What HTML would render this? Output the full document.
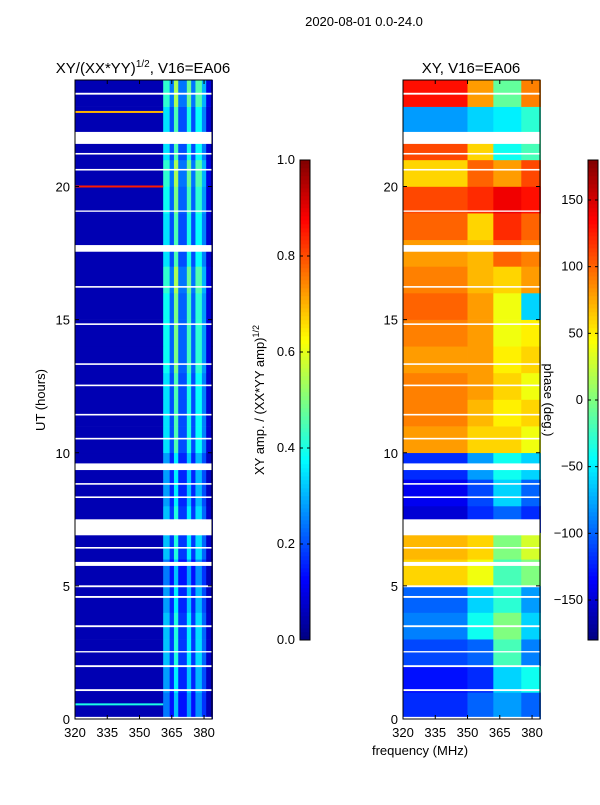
<!DOCTYPE html>
<html><head><meta charset="utf-8">
<style>
html,body{margin:0;padding:0;background:#fff;}
svg text{font-family:"Liberation Sans","DejaVu Sans",sans-serif;fill:#000;}
</style></head>
<body>
<svg id="fig" width="600" height="800" viewBox="0 0 600 800" xmlns="http://www.w3.org/2000/svg">
<text x="364" y="26" font-size="13" text-anchor="middle">2020-08-01 0.0-24.0</text>
<text x="143" y="73" font-size="15" text-anchor="middle">XY/(XX*YY)<tspan font-size="10" dy="-6">1/2</tspan><tspan dy="6">, V16=EA06</tspan></text>
<text x="471" y="73" font-size="15" text-anchor="middle">XY, V16=EA06</text>
<g id="leftG"></g>
<g id="rightG"></g>
<g id="axes"></g>
<text transform="translate(45,400) rotate(-90)" font-size="13" text-anchor="middle">UT (hours)</text>
<text x="420" y="755" font-size="13" text-anchor="middle">frequency (MHz)</text>
<text transform="translate(264,400) rotate(-90)" font-size="13" text-anchor="middle">XY amp. / (XX*YY amp)<tspan font-size="9" dy="-5">1/2</tspan></text>
<text transform="translate(544,400) rotate(90)" font-size="13" text-anchor="middle">phase (deg.)</text>
</svg>
<script>
const hours=[0,5,10,15,20];
const freqTicks=[320,335,350,365,380];
const ampTicks=[0.0,0.2,0.4,0.6,0.8,1.0];
const phaseTicks=[-150,-100,-50,0,50,100,150];
const ampBandEdges=[320,361,364,366,368,372,374,376,379,381,384];
const ampBandValues=[0.05,0.35,0.2,0.45,0.2,0.4,0.2,0.38,0.25,0.08];
const ampHourScale=[0.7,0.8,0.9,0.9,0.8,0.7,0.9,0.9,0.8,0.8,1.0,1.0,1.0,1.1,1.1,1.1,1.2,1.0,1.0,1.1,1.2,1.0,1.0,1.2];
const phaseBandEdges=[320,350,362,375,384];
const phaseRows=[
[-120,-100,-80,-100],[-130,-120,-60,-40],[-110,-100,-20,-90],[-90,-40,0,-60],[-100,-60,-30,-80],
[60,40,-20,0],[70,60,0,30],[-150,-120,-100,-120],[-140,-110,-60,-100],[-120,-80,-40,-60],
[80,60,60,40],[90,70,50,60],[90,80,60,40],[80,80,50,60],[90,80,40,50],
[100,80,40,-60],[90,70,60,80],[80,70,100,90],[100,60,120,100],[110,120,140,130],
[60,100,80,110],[110,60,-40,-20],[-80,-60,-50,-30],[130,80,-10,90]];
const gaps=[[23.45,23.52],[21.6,22.05],[21.2,21.26],[20.6,20.66],[19.05,19.1],[17.55,17.8],[16.2,16.26],[14.8,14.86],[13.3,13.36],[12.5,12.56],[11.4,11.46],[10.5,10.56],[9.35,9.6],[8.8,8.86],[8.3,8.36],[6.9,7.5],[6.4,6.46],[5.75,5.9],[4.95,5.02],[4.55,4.62],[3.45,3.52],[2.5,2.55],[1.95,2.02],[1.05,1.12],[0.0,0.08]];
const hotRows=[[20.0,0.85],[22.8,0.7],[0.55,0.4]];

const NS="http://www.w3.org/2000/svg";
const Y0=719,Y1=80,F0=320,F1=383.7;
const yOf=h=>Y0-(h/24)*(Y0-Y1);
function xOf(px0,f){return px0+(f-F0)/(F1-F0)*137;}
function jet(t){t=Math.max(0,Math.min(1,t));
 const r=Math.max(0,Math.min(1,1.5-Math.abs(4*t-3))),g=Math.max(0,Math.min(1,1.5-Math.abs(4*t-2))),b=Math.max(0,Math.min(1,1.5-Math.abs(4*t-1)));
 return `rgb(${Math.round(r*255)},${Math.round(g*255)},${Math.round(b*255)})`;}
function rect(p,x,y,w,h,fill,name){const r=document.createElementNS(NS,'rect');
 r.setAttribute('x',x);r.setAttribute('y',y);r.setAttribute('width',w);r.setAttribute('height',h);r.setAttribute('fill',fill);
 
 
 p.appendChild(r);return r;}
function text(p,x,y,s,anchor,name){const t=document.createElementNS(NS,'text');
 t.setAttribute('x',x);t.setAttribute('y',y);t.setAttribute('font-size','13');t.setAttribute('text-anchor',anchor);t.textContent=s;
 
 
 p.appendChild(t);}
const L=document.getElementById('leftG'),R=document.getElementById('rightG'),A=document.getElementById('axes');
for(let h=0;h<24;h++){
 for(let b=0;b<ampBandValues.length;b++){
  const x0=xOf(75,ampBandEdges[b]),x1=xOf(75,ampBandEdges[b+1]);
  const v=b===0?ampBandValues[b]:ampBandValues[b]*ampHourScale[h];
  rect(L,x0,yOf(h+1),x1-x0+0.3,yOf(h)-yOf(h+1)+0.3,jet(v),'amp-cell');
 }}
hotRows.forEach(([h,v])=>{rect(L,xOf(75,320),yOf(h)-1,xOf(75,361)-75,2,jet(v),'amp-hot-row');});
for(let h=0;h<24;h++){
 for(let b=0;b<4;b++){
  const x0=xOf(403,phaseBandEdges[b]),x1=xOf(403,phaseBandEdges[b+1]);
  const v=(phaseRows[h][b]+180)/360;
  rect(R,x0,yOf(h+1),x1-x0+0.3,yOf(h)-yOf(h+1)+0.3,jet(v),'phase-cell');
 }}
gaps.forEach(([a,b])=>{
 rect(L,75,yOf(b),137,yOf(a)-yOf(b),'#fff','flag-gap');
 rect(R,403,yOf(b),137,yOf(a)-yOf(b),'#fff','flag-gap');});
[75,403].forEach(px=>{
 const fr=rect(A,px,80,137,639,'none','plot-frame');fr.setAttribute('stroke','#000');
 hours.forEach(h=>{const y=yOf(h);
  rect(A,px,y-0.5,4,1,'#000','y-tick');rect(A,px+133,y-0.5,4,1,'#000','y-tick');
  text(A,px-5,y+5,String(h),'end','y-tick-label');});
 freqTicks.forEach(f=>{const x=xOf(px,f);
  rect(A,x-0.5,715,1,4,'#000','x-tick');rect(A,x-0.5,80,1,4,'#000','x-tick');
  text(A,x,737,String(f),'middle','x-tick-label');});
});
function cbar(px,ticks,lo,hi,fmt,name){
 for(let i=0;i<120;i++){rect(A,px,640-(i+1)*4,10,4.3,jet((i+0.5)/120),name+'-segment');}
 const fr=rect(A,px,160,10,480,'none',name+'-frame');fr.setAttribute('stroke','#000');
 ticks.forEach(v=>{const y=640-(v-lo)/(hi-lo)*480;
  rect(A,px,y-0.5,3,1,'#000',name+'-tick');rect(A,px+7,y-0.5,3,1,'#000',name+'-tick');
  text(A,px-5,y+4,fmt(v),'end',name+'-tick-label');});
}
cbar(300,ampTicks,0,1,v=>v.toFixed(1),'amplitude-colorbar');
cbar(588,phaseTicks,-180,180,v=>v<0?'\u2212'+Math.abs(v):String(v),'phase-colorbar');
</script>
</body></html>
